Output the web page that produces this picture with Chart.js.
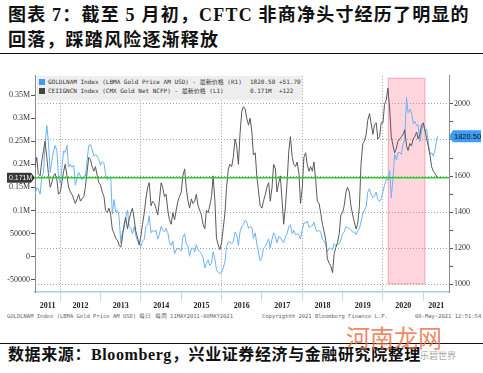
<!DOCTYPE html>
<html><head><meta charset="utf-8">
<script src="https://cdn.jsdelivr.net/npm/chart.js@4/dist/chart.umd.min.js"></script>
<style>
html,body{margin:0;padding:0;background:#fff;}
body{width:483px;height:373px;overflow:hidden;position:relative;}
.t{position:absolute;white-space:nowrap;}
#title{left:8px;top:3px;font-weight:bold;font-size:18px;font-family:"Liberation Serif","Noto Sans CJK SC",serif;line-height:25px;color:#111;letter-spacing:1.2px;}
.rule{position:absolute;left:0;width:483px;height:1.5px;background:#111;}
#wrap{position:absolute;left:0;top:70px;width:483px;height:242px;}
#legend{position:absolute;left:37px;top:76px;width:265px;height:24px;background:#eeeeee;font-size:6px;font-family:"DejaVu Sans Mono","Noto Sans CJK SC",monospace;color:#333;}
#legend .sw{position:absolute;width:6px;height:6px;}
#legend .t{line-height:8px;}
.foot{top:312px;font-size:5.5px;font-family:"DejaVu Sans Mono",monospace;color:#666;line-height:8px;}
#source{left:8px;top:345px;font-weight:bold;font-size:16px;font-family:"Liberation Serif","Noto Sans CJK SC",serif;color:#111;letter-spacing:0.6px;line-height:20px;}
#wm{left:346px;top:322px;font-size:24px;font-family:"Noto Sans CJK SC";color:rgba(235,105,60,0.8);line-height:30px;}
#wm2{left:420px;top:349px;font-size:9px;font-family:"Noto Sans CJK SC";color:rgba(120,120,120,0.7);}
</style></head>
<body>
<div id="title" class="t">图表 7：截至 5 月初，CFTC 非商净头寸经历了明显的<br>回落，踩踏风险逐渐释放</div>
<div class="rule" style="top:52.5px"></div>
<div id="wrap"><canvas id="c" width="483" height="242"></canvas></div>
<div id="legend">
  <div class="sw" style="left:2px;top:3px;background:#3d9cf5"></div>
  <div class="sw" style="left:2px;top:12px;background:#444"></div>
  <div class="t" style="left:11px;top:2px">GOLDLNAM Index (LBMA Gold Price AM USD) - 最新价格 (R1)</div>
  <div class="t" style="left:213px;top:2px">1820.50</div>
  <div class="t" style="left:242px;top:2px">+51.70</div>
  <div class="t" style="left:11px;top:11px">CEIIGNCN Index (CMX Gold Net NCFP) - 最新价格 (L1)</div>
  <div class="t" style="left:213px;top:11px">0.171M</div>
  <div class="t" style="left:242px;top:11px">+122</div>
</div>
<div class="t foot" style="left:7px">GOLDLNAM Index (LBMA Gold Price AM USD) 每日  每周 11MAY2011-08MAY2021</div>
<div class="t foot" style="left:262px">Copyright® 2021 Bloomberg Finance L.P.</div>
<div class="t foot" style="left:415px">08-May-2021 12:51:54</div>
<div class="rule" style="top:342.5px"></div>
<div id="source" class="t">数据来源：Bloomberg，兴业证券经济与金融研究院整理</div>
<div id="wm" class="t">河南龙网</div>
<div id="wm2" class="t">乐碧世界</div>
<script>
// ---- data (semi-monthly observations: 1st & 15th of each month, May-15-2011 .. May-07-2021) ----
const firstDate = "2011-05-15";
const lastDate = "2021-05-07";
// LBMA Gold Price AM, USD/oz (right axis)
const goldPrice = [
  1495,1535,1530,1500,1590,1620,1770,1880,1790,1620,1680,1740,1770,1740,1590,
  1560,1640,1740,1730,1770,1650,1665,1650,1660,1550,1590,1620,1600,1580,1600,1600,1690,1770,1775,1750,1710,1720,1710,1690,
  1660,1680,1670,1610,1580,1590,1600,1390,1470,1400,1410,1380,1230,1290,1310,1370,1410,1320,1310,1280,1320,1270,1240,1230,
  1210,1240,1250,1320,1330,1380,1285,1300,1290,1300,1250,1275,1320,1300,1290,1310,1285,1235,1215,1240,1170,1190,1200,1195,
  1185,1260,1280,1225,1210,1155,1200,1200,1180,1220,1190,1180,1170,1150,1090,1115,1135,1105,1115,1180,1140,1080,1065,1060,
  1065,1090,1125,1210,1235,1235,1225,1235,1290,1275,1215,1290,1320,1330,1355,1345,1310,1320,1315,1255,1285,1225,1175,1130,
  1150,1200,1210,1230,1250,1200,1250,1285,1265,1230,1265,1260,1240,1230,1265,1280,1320,1330,1280,1300,1275,1280,1275,1250,
  1300,1340,1340,1350,1315,1320,1325,1345,1305,1290,1300,1290,1250,1240,1220,1180,1200,1200,1190,1225,1215,1220,1225,1245,
  1280,1290,1320,1315,1310,1300,1290,1290,1275,1295,1310,1345,1390,1410,1430,1510,1530,1500,1480,1490,1510,1470,1460,1475,
  1515,1550,1580,1580,1630,1480,1590,1720,1690,1730,1730,1720,1780,1805,2035,1950,1970,1955,1890,1905,1880,1885,1790,1850,
  1890,1850,1860,1790,1720,1730,1710,1745,1820.5
];
// CFTC CMX gold non-commercial net positions, contracts (left axis)
const netPositions = [
  195000,215000,180000,175000,205000,230000,250000,215000,180000,150000,160000,175000,180000,165000,135000,
  140000,160000,185000,200000,175000,150000,140000,135000,125000,115000,125000,135000,120000,125000,130000,150000,185000,215000,210000,195000,185000,195000,175000,160000,
  155000,140000,130000,100000,95000,105000,90000,60000,50000,40000,35000,25000,20000,40000,70000,85000,60000,80000,95000,105000,80000,55000,40000,25000,
  45000,70000,95000,125000,150000,160000,110000,120000,115000,105000,90000,120000,160000,150000,130000,135000,100000,80000,70000,95000,80000,100000,120000,130000,
  140000,175000,190000,150000,120000,105000,125000,115000,120000,135000,110000,100000,90000,70000,60000,100000,95000,110000,130000,175000,120000,40000,25000,15000,
  30000,60000,95000,150000,190000,200000,195000,215000,255000,240000,200000,265000,315000,325000,320000,300000,285000,300000,270000,220000,225000,175000,140000,110000,
  105000,120000,135000,150000,160000,120000,150000,200000,190000,140000,160000,175000,120000,70000,110000,160000,230000,260000,215000,200000,195000,205000,180000,115000,
  150000,215000,225000,200000,185000,195000,185000,205000,165000,120000,115000,95000,70000,55000,35000,-5000,-15000,-20000,-35000,5000,20000,30000,50000,90000,
  95000,110000,140000,150000,140000,110000,90000,75000,60000,70000,110000,200000,245000,250000,265000,295000,310000,290000,265000,285000,290000,255000,260000,290000,
  290000,330000,340000,365000,320000,260000,240000,225000,235000,250000,255000,260000,265000,275000,240000,230000,245000,240000,255000,260000,270000,255000,265000,285000,
  290000,275000,255000,240000,220000,195000,185000,180000,171000
];
const latestNet = 171000;
const latestGold = 1820.5;
const yearLabels = ["2011","2012","2013","2014","2015","2016","2017","2018","2019","2020","2021"];
const leftTicks = [-50000,0,50000,100000,150000,200000,250000,300000,350000];
const rightTicks = [1000,1100,1200,1300,1400,1500,1600,1700,1800,1900,2000];
const rightLabelled = [1000,1200,1400,1600,1800,2000];
const shadeRange = [2020.12, 2021.05];   // highlighted period (decimal years)
const shadeFloor = 1000;                  // bottom of highlight on right axis
const xRange = [2011.373, 2021.637];
const leftRange = [-77000, 392000];
const rightRange = [957, 2156];

// ---- build observation dates ----
function dec(y,m,d){ return y + (m-1)/12 + (d-1)/365; }
const dates = [];
(function(){
  const [fy,fm,fd] = firstDate.split('-').map(Number);
  const [ly,lm,ld] = lastDate.split('-').map(Number);
  dates.push(dec(fy,fm,fd));
  let y=fy, m=fm+1;
  while (y < ly || (y===ly && m < lm)) {
    dates.push(dec(y,m,1)); dates.push(dec(y,m,15));
    m++; if (m>12){m=1;y++;}
  }
  dates.push(dec(ly,lm,ld));
})();

const goldPts = dates.map((x,i)=>({x, y: goldPrice[i]}));
const netPts = dates.map((x,i)=>({x, y: netPositions[i]}));

// x ticks: year boundaries + label positions
const xTicks = [];
yearLabels.forEach((lab,i)=>{
  const yr = Number(lab);
  if (i>0) xTicks.push({v: yr, label:'', boundary:true});
  const a = Math.max(yr, xRange[0]), b = Math.min(yr+1, xRange[1]);
  xTicks.push({v:(a+b)/2, label:lab, boundary:false});
});

const shadePlugin = {
  id:'shade',
  beforeDraw(chart){
    const {ctx, chartArea, scales} = chart;
    const x0 = scales.x.getPixelForValue(shadeRange[0]);
    const x1 = scales.x.getPixelForValue(shadeRange[1]);
    const yb = scales.y1.getPixelForValue(shadeFloor);
    const yt = chartArea.top + 2;
    ctx.save();
    ctx.fillStyle = '#ffd6dd';
    ctx.fillRect(x0, yt, x1-x0, yb-yt);
    ctx.strokeStyle = '#f6a9b7';
    ctx.lineWidth = 1;
    ctx.strokeRect(x0+0.5, yt+0.5, x1-x0-1, yb-yt-1);
    ctx.restore();
  }
};
const tagPlugin = {
  id:'tags',
  afterDraw(chart){
    const {ctx, chartArea, scales} = chart;
    ctx.save();
    let py = scales.y.getPixelForValue(latestNet);
    let xr = chartArea.left;
    ctx.fillStyle = '#383838';
    ctx.beginPath();
    ctx.moveTo(7, py-5); ctx.lineTo(xr-4, py-5); ctx.lineTo(xr, py); ctx.lineTo(xr-4, py+5); ctx.lineTo(7, py+5); ctx.closePath(); ctx.fill();
    ctx.fillStyle = '#f4f4f4';
    ctx.font = '7px "Liberation Sans"';
    ctx.textBaseline = 'middle'; ctx.textAlign='left';
    ctx.fillText((latestNet/1e6).toFixed(3)+'M', 9, py+0.5);
    py = scales.y1.getPixelForValue(latestGold);
    const xl = chartArea.right;
    ctx.fillStyle = '#3d9cf5';
    ctx.beginPath();
    ctx.moveTo(xl, py); ctx.lineTo(xl+4, py-6); ctx.lineTo(481, py-6); ctx.lineTo(481, py+6); ctx.lineTo(xl+4, py+6); ctx.closePath(); ctx.fill();
    ctx.fillStyle = '#111';
    ctx.font = '7.5px "Liberation Sans"';
    ctx.fillText(latestGold.toFixed(2), xl+5, py+0.5);
    ctx.restore();
  }
};

new Chart(document.getElementById('c'), {
  type:'line',
  data:{ datasets:[
    {label:'latest', data:[{x:xRange[0],y:latestNet},{x:xRange[1],y:latestNet}], yAxisID:'y', borderColor:'#22d422', borderWidth:1.6, pointRadius:0, order:-1},
    {label:'CEIIGNCN', data:netPts, yAxisID:'y', borderColor:'#5a5a5a', borderWidth:1, pointRadius:0, tension:0, order:0},
    {label:'GOLDLNAM', data:goldPts, yAxisID:'y1', borderColor:'#6cb2f5', borderWidth:1, pointRadius:0, tension:0, order:1}
  ]},
  options:{
    responsive:false, animation:false, devicePixelRatio:1,
    layout:{padding:{top:5,left:0,right:0,bottom:0}},
    plugins:{legend:{display:false}, tooltip:{enabled:false}},
    scales:{
      x:{type:'linear', min:xRange[0], max:xRange[1],
        afterBuildTicks:s=>{ s.ticks = xTicks.map(t=>({value:t.v})); },
        afterFit:s=>{ s.height = 20; },
        ticks:{autoSkip:false, maxRotation:0, padding:0, color:'#222',
          font:{family:'"Liberation Serif"', size:8, weight:'bold'},
          callback:(v,i)=> xTicks[i] ? xTicks[i].label : ''},
        grid:{drawOnChartArea:true, tickLength:9, tickWidth:1, tickBorderDash:[1,0],
          color:c=>{ const t=xTicks[c.index]; return (t && t.boundary && Number.isInteger(t.v) && t.v%2===0) ? '#a0a0a0' : 'rgba(0,0,0,0)'; },
          tickColor:c=>{ const t=xTicks[c.index]; return (t && t.boundary) ? '#a9cdf0' : 'rgba(0,0,0,0)'; }},
        border:{color:'#a9cdf0', width:1.5, dash:[1,2]}
      },
      y:{position:'left', min:leftRange[0], max:leftRange[1],
        afterBuildTicks:s=>{ s.ticks = leftTicks.map(v=>({value:v})); },
        afterFit:s=>{ s.width = 35; },
        ticks:{autoSkip:false, padding:1, color:'#333', font:{family:'"Liberation Serif"', size:8},
          callback:v=> Math.abs(v)>=100000 ? (v/1e6)+'M' : String(v)},
        grid:{drawOnChartArea:false, tickLength:4, tickColor:'#555'},
        border:{color:'#8a8a8a', width:1}
      },
      y1:{position:'right', min:rightRange[0], max:rightRange[1],
        afterBuildTicks:s=>{ s.ticks = rightTicks.map(v=>({value:v})); },
        afterFit:s=>{ s.width = 34; },
        ticks:{autoSkip:false, padding:1, color:'#333', font:{family:'"Liberation Serif"', size:8},
          callback:v=> rightLabelled.includes(v) ? String(v) : ''},
        grid:{drawOnChartArea:true, tickLength:4, tickBorderDash:[1,0], tickColor:'#555',
          color:c=> (c.tick && rightLabelled.includes(c.tick.value)) ? '#a0a0a0' : 'rgba(0,0,0,0)'},
        border:{color:'#8a8a8a', width:1, dash:[1,2]}
      }
    }
  },
  plugins:[shadePlugin, tagPlugin]
});
</script>
</body></html>
